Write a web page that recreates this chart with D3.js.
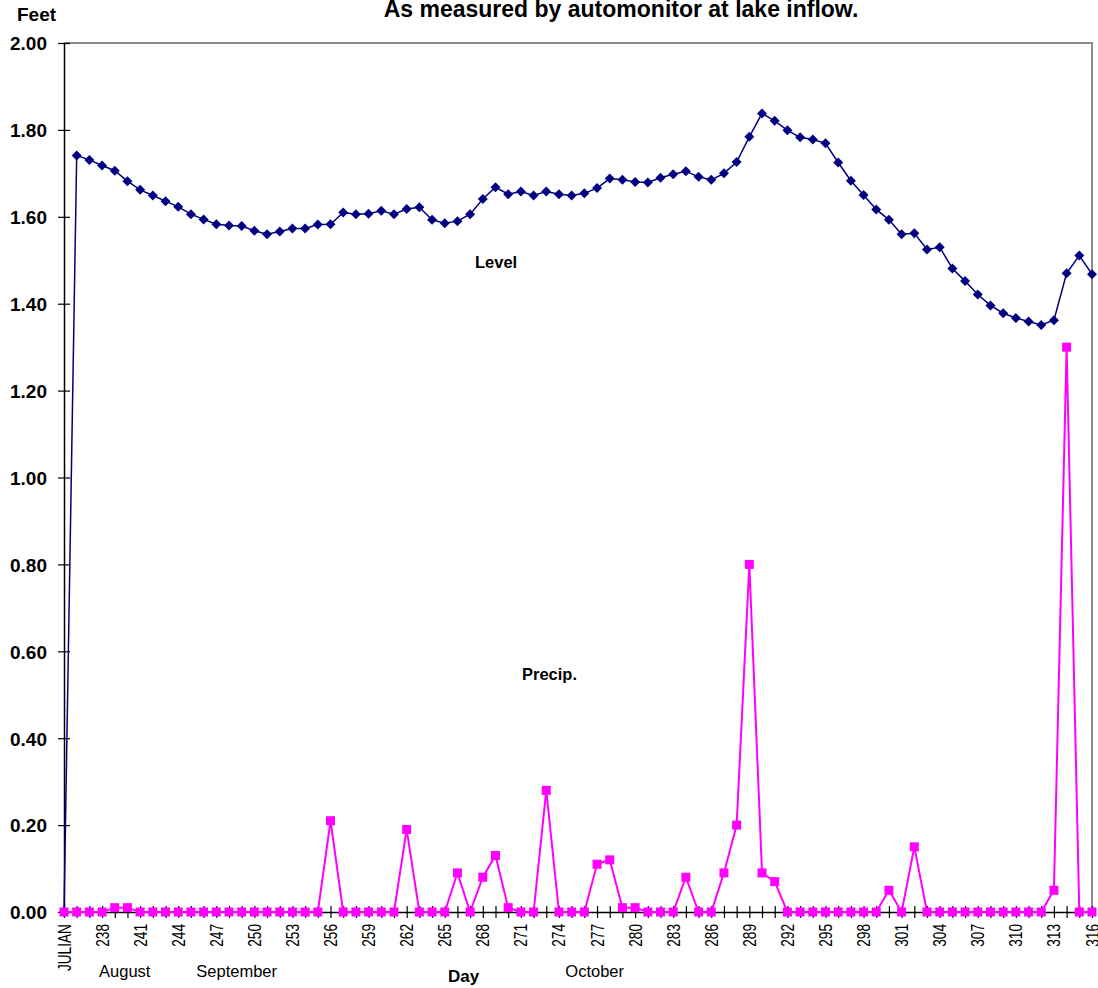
<!DOCTYPE html>
<html>
<head>
<meta charset="utf-8">
<script src="https://d3js.org/d3.v7.min.js"></script>
<style>
body {
    margin: 0;
    padding: 0;
    background: #fff;
}
svg {
    font-family: "Liberation Sans", Arial, sans-serif;
}
.lbl {
    font-weight: bold;
    fill: #000;
}
</style>
</head>
<body>
<script>
var width = 1098;
var height = 988;

// categories: first slot is the "JULIAN" header, then Julian days 236..316
var days = d3.range(236, 317);
var categories = ["JULIAN"].concat(days.map(String));

// lake level (feet)
var level = [
    0,
    1.741, 1.731, 1.718, 1.706, 1.682, 1.662, 1.649, 1.636, 1.623, 1.606,
    1.594, 1.583, 1.580, 1.579, 1.568, 1.560, 1.566, 1.573, 1.573, 1.582,
    1.583, 1.610, 1.606, 1.607, 1.614, 1.606, 1.618, 1.622, 1.593, 1.585,
    1.590, 1.606, 1.641, 1.668, 1.652, 1.658, 1.649, 1.658, 1.652, 1.649,
    1.654, 1.666, 1.688, 1.685, 1.680, 1.679, 1.690, 1.698, 1.705, 1.692,
    1.685, 1.700, 1.726, 1.784, 1.838, 1.821, 1.799, 1.783, 1.778, 1.769,
    1.725, 1.683, 1.650, 1.617, 1.593, 1.560, 1.562, 1.525, 1.530, 1.481,
    1.452, 1.421, 1.396, 1.378, 1.367, 1.359, 1.351, 1.362, 1.470, 1.511,
    1.468
];

// precipitation (inches)
var precip = [
    0,
    0, 0, 0, 0.01, 0.01, 0, 0, 0, 0, 0,
    0, 0, 0, 0, 0, 0, 0, 0, 0, 0,
    0.21, 0, 0, 0, 0, 0, 0.19, 0, 0, 0,
    0.09, 0, 0.08, 0.13, 0.01, 0, 0, 0.28, 0, 0,
    0, 0.11, 0.12, 0.01, 0.01, 0, 0, 0, 0.08, 0,
    0, 0.09, 0.20, 0.80, 0.09, 0.07, 0, 0, 0, 0,
    0, 0, 0, 0, 0.05, 0, 0.15, 0, 0, 0,
    0, 0, 0, 0, 0, 0, 0, 0.05, 1.30, 0,
    0
];

var yTicks = [0, 0.2, 0.4, 0.6, 0.8, 1.0, 1.2, 1.4, 1.6, 1.8, 2.0];

var months = [
    { name: "August", day: "238", dx: -3 },
    { name: "September", day: "247", dx: -20 },
    { name: "October", day: "276", dx: -19 }
];

var plotLeft = 64, plotRight = 1092, plotTop = 43, plotBottom = 912;

var x = d3.scalePoint().domain(categories).range([plotLeft, plotRight]);
var y = d3.scaleLinear().domain([0, 2]).range([plotBottom, plotTop]);

var svg = d3.select("body")
    .append("svg")
    .attr("width", width)
    .attr("height", height);

// plot area frame (top and right, grey)
svg.append("path")
    .attr("d", "M" + plotLeft + "," + plotTop + "H" + plotRight + "V" + plotBottom)
    .attr("fill", "none")
    .attr("stroke", "#8c8c8c")
    .attr("stroke-width", 2);

// Y axis
var yAxis = d3.axisLeft(y)
    .tickValues(yTicks)
    .tickSizeInner(6)
    .tickSizeOuter(0)
    .tickFormat(d3.format(".2f"));

var gy = svg.append("g")
    .attr("transform", "translate(" + plotLeft + ",0)")
    .call(yAxis);
gy.select(".domain").attr("stroke", "#000").attr("stroke-width", 1.5);
gy.selectAll(".tick line").attr("x1", 6).attr("x2", -6).attr("stroke", "#000").attr("stroke-width", 1.2);
gy.selectAll(".tick text")
    .attr("x", -17)
    .attr("dy", "0.36em")
    .style("font-size", "19px")
    .style("font-weight", "bold")
    .style("font-family", "'Liberation Sans', Arial, sans-serif")
    .attr("fill", "#000");

// X axis
var xAxis = d3.axisBottom(x)
    .tickSizeInner(6)
    .tickSizeOuter(0)
    .tickFormat(function (d, i) { return i % 3 === 0 ? d : ""; });

var gx = svg.append("g")
    .attr("transform", "translate(0," + plotBottom + ")")
    .call(xAxis);
gx.select(".domain").attr("stroke", "#000").attr("stroke-width", 1.5);
gx.selectAll(".tick line").attr("y1", -6).attr("y2", 6).attr("stroke", "#000").attr("stroke-width", 1.2);
gx.selectAll(".tick text")
    .attr("y", null)
    .attr("dy", null)
    .attr("text-anchor", "end")
    .attr("transform", "translate(6,12) rotate(-90) scale(0.72,1)")
    .style("font-size", "19px")
    .style("font-family", "'Liberation Sans', Arial, sans-serif")
    .attr("fill", "#000");

// Level series
var line = d3.line()
    .x(function (d, i) { return x(categories[i]); })
    .y(function (d) { return y(d); });

svg.append("path")
    .attr("d", line(level))
    .attr("fill", "none")
    .attr("stroke", "#000080")
    .attr("stroke-width", 1.5);

svg.append("g")
    .selectAll("path")
    .data(level)
    .enter()
    .append("path")
    .attr("d", d3.symbol(d3.symbolSquare, 50))
    .attr("transform", function (d, i) {
        return "translate(" + x(categories[i]) + "," + y(d) + ") rotate(45)";
    })
    .attr("fill", "#000080");

// Precip series
svg.append("path")
    .attr("d", line(precip))
    .attr("fill", "none")
    .attr("stroke", "#ff00ff")
    .attr("stroke-width", 2);

svg.append("g")
    .selectAll("path")
    .data(precip)
    .enter()
    .append("path")
    .attr("d", d3.symbol(d3.symbolSquare, 81))
    .attr("transform", function (d, i) {
        return "translate(" + x(categories[i]) + "," + y(d) + ")";
    })
    .attr("fill", "#ff00ff");

// texts
svg.append("text").attr("class", "lbl")
    .attr("x", 17).attr("y", 21)
    .style("font-size", "19px")
    .text("Feet");

svg.append("text").attr("class", "lbl")
    .attr("x", 621).attr("y", 17)
    .attr("text-anchor", "middle")
    .style("font-size", "23px")
    .text("As measured by automonitor at lake inflow.");

svg.append("text").attr("class", "lbl")
    .attr("x", 475).attr("y", 268)
    .style("font-size", "16.5px")
    .text("Level");

svg.append("text").attr("class", "lbl")
    .attr("x", 522).attr("y", 680)
    .style("font-size", "16.5px")
    .text("Precip.");

svg.append("text").attr("class", "lbl")
    .attr("x", 448).attr("y", 982)
    .style("font-size", "17px")
    .text("Day");

svg.selectAll(".month")
    .data(months)
    .enter()
    .append("text")
    .attr("class", "month")
    .attr("x", function (d) { return x(d.day) + d.dx; })
    .attr("y", 977)
    .style("font-size", "16.5px")
    .attr("fill", "#000")
    .text(function (d) { return d.name; });
</script>
</body>
</html>
